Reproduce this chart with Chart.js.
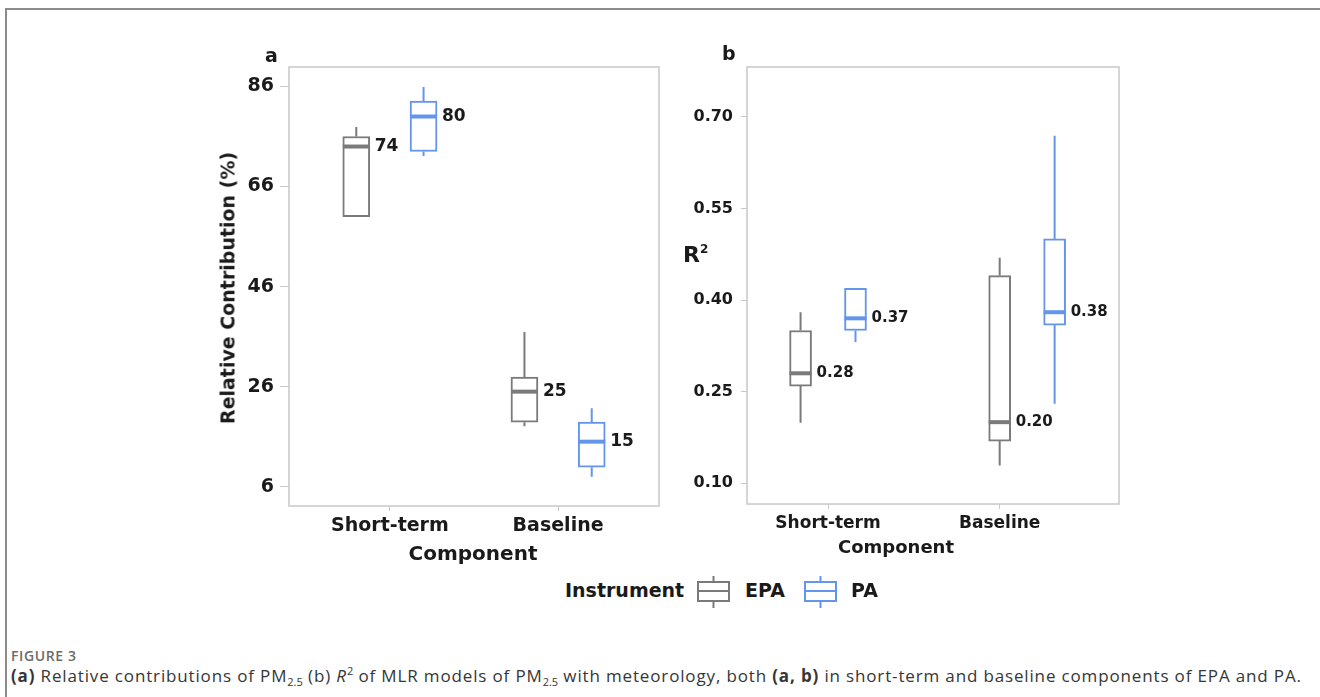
<!DOCTYPE html>
<html>
<head>
<meta charset="utf-8">
<script src="https://cdn.jsdelivr.net/npm/chart.js@4.4.0/dist/chart.umd.min.js"></script>
<style>
  body { margin: 0; background: #fff; width: 1320px; height: 697px; overflow: hidden; position: relative; font-family: 'DejaVu Sans', sans-serif; }
  .frame { position: absolute; left: 5px; top: 8px; width: 1400px; height: 800px; border-left: 2px solid #8c8c8c; border-top: 2px solid #8c8c8c; }
  #chartA { position: absolute; left: 0; top: 0; }
  #chartB { position: absolute; left: 680px; top: 0; }
  .lbl { position: absolute; font-weight: bold; color: #1a1a1a; white-space: nowrap; line-height: 1; }
  .cap-head { position: absolute; left: 11px; top: 646px; font-family: 'Open Sans', sans-serif; font-size: 14px; font-weight: 600; letter-spacing: 0.6px; color: #6b6b6b; }
  .cap { position: absolute; left: 11px; top: 664px; font-family: 'Open Sans', sans-serif; font-size: 17px; letter-spacing: 0.85px; color: #363636; white-space: nowrap; }
  .cap sub, .cap sup { font-size: 11px; line-height: 0; letter-spacing: 0; }
</style>
</head>
<body>
<div class="frame"></div>
<canvas id="chartA" width="680" height="546"></canvas>
<canvas id="chartB" width="640" height="546"></canvas>

<div class="lbl" style="left:265px;top:46px;font-size:19px;">a</div>
<div class="lbl" style="left:722px;top:44px;font-size:19px;">b</div>
<div class="lbl" style="left:228px;top:288px;font-size:19px;transform:translate(-50%,-50%) rotate(-90deg);">Relative Contribution (%)</div>
<div class="lbl" style="left:683px;top:243px;font-size:22px;">R<sup style="font-size:12px;vertical-align:9px;">2</sup></div>
<div class="lbl" style="left:473px;top:543px;font-size:20px;transform:translateX(-50%);">Component</div>
<div class="lbl" style="left:896px;top:538px;font-size:18px;transform:translateX(-50%);">Component</div>

<div class="lbl" style="left:565px;top:581px;font-size:19px;">Instrument</div>
<svg style="position:absolute;left:697px;top:575px;" width="33" height="34">
  <line x1="16.5" y1="1" x2="16.5" y2="7" stroke="#7a7a7a" stroke-width="2"/>
  <line x1="16.5" y1="26" x2="16.5" y2="33" stroke="#7a7a7a" stroke-width="2"/>
  <rect x="1" y="7" width="31" height="19" fill="#fff" stroke="#7a7a7a" stroke-width="2"/>
  <line x1="1" y1="16" x2="32" y2="16" stroke="#7a7a7a" stroke-width="2"/>
</svg>
<div class="lbl" style="left:745px;top:581px;font-size:19px;">EPA</div>
<svg style="position:absolute;left:804px;top:575px;" width="33" height="34">
  <line x1="16.5" y1="1" x2="16.5" y2="7" stroke="#6495ed" stroke-width="2"/>
  <line x1="16.5" y1="26" x2="16.5" y2="33" stroke="#6495ed" stroke-width="2"/>
  <rect x="1" y="7" width="31" height="19" fill="#fff" stroke="#6495ed" stroke-width="2"/>
  <line x1="1" y1="16" x2="32" y2="16" stroke="#6495ed" stroke-width="2"/>
</svg>
<div class="lbl" style="left:851px;top:581px;font-size:19px;">PA</div>

<div class="cap-head">FIGURE 3</div>
<div class="cap"><b>(a)</b> Relative contributions of PM<sub>2.5</sub> (b) <i>R</i><sup>2</sup> of MLR models of PM<sub>2.5</sub> with meteorology, both <b>(a, b)</b> in short-term and baseline components of EPA and PA.</div>

<script>
// categories and box statistics (min, q1, median, q3, max)
const categories = ['Short-term', 'Baseline'];
const seriesNames = ['EPA', 'PA'];

// panel a: relative contribution (%)
const contribEpaMin = [60.0, 18.1];
const contribEpaQ1 = [60.0, 18.9];
const contribEpaMed = [74, 25];
const contribEpaQ3 = [76.0, 27.9];
const contribEpaMax = [77.9, 36.9];
const contribPaMin = [72.1, 8.0];
const contribPaQ1 = [73.0, 9.9];
const contribPaMed = [80, 15];
const contribPaQ3 = [83.1, 18.9];
const contribPaMax = [85.9, 21.7];
const contribTicks = [6, 26, 46, 66, 86];

// panel b: R squared
const r2EpaMin = [0.199, 0.129];
const r2EpaQ1 = [0.259, 0.169];
const r2EpaMed = [0.28, 0.20];
const r2EpaQ3 = [0.35, 0.44];
const r2EpaMax = [0.38, 0.469];
const r2PaMin = [0.331, 0.23];
const r2PaQ1 = [0.35, 0.359];
const r2PaMed = [0.37, 0.38];
const r2PaQ3 = [0.419, 0.50];
const r2PaMax = [0.419, 0.669];
const r2Ticks = [0.10, 0.25, 0.40, 0.55, 0.70];

const colors = ['#7a7a7a', '#6495ed'];
const textColor = '#1a1a1a';

function makeBoxes(q1, q3, med, mn, mx, offsets) {
    return q1.map((v, i) => ({ x: i + 1 + offsets[i], y: [v, q3[i]], med: med[i], min: mn[i], max: mx[i] }));
}

// whiskers, medians and median labels, drawn from the dataset points
const boxExtras = {
    id: 'boxExtras',
    beforeDatasetsDraw(chart) {
        const a = chart.chartArea, ctx = chart.ctx;
        ctx.save();
        ctx.strokeStyle = '#c8c8c8';
        ctx.lineWidth = 1.5;
        ctx.strokeRect(a.left, a.top, a.right - a.left, a.bottom - a.top);
        ctx.restore();
    },
    afterDatasetsDraw(chart, args, opts) {
        const ctx = chart.ctx, ys = chart.scales.y;
        chart.data.datasets.forEach((ds, di) => {
            const meta = chart.getDatasetMeta(di);
            meta.data.forEach((bar, i) => {
                const p = ds.data[i];
                const half = bar.width / 2;
                const top = ys.getPixelForValue(p.y[1]);
                const bot = ys.getPixelForValue(p.y[0]);
                ctx.save();
                ctx.strokeStyle = ds.borderColor;
                ctx.lineWidth = 2;
                ctx.beginPath();
                ctx.moveTo(bar.x, top);
                ctx.lineTo(bar.x, ys.getPixelForValue(p.max));
                ctx.moveTo(bar.x, bot);
                ctx.lineTo(bar.x, ys.getPixelForValue(p.min));
                ctx.stroke();
                const my = ys.getPixelForValue(p.med);
                ctx.lineWidth = 4;
                ctx.beginPath();
                ctx.moveTo(bar.x - half, my);
                ctx.lineTo(bar.x + half, my);
                ctx.stroke();
                ctx.fillStyle = textColor;
                ctx.font = 'bold ' + opts.labelSize + 'px "DejaVu Sans"';
                ctx.textBaseline = 'middle';
                ctx.textAlign = 'left';
                ctx.fillText(p.med.toFixed(opts.digits), bar.x + half + 5, my);
                ctx.restore();
            });
        });
    }
};

function boxChart(id, cfg) {
    const datasets = [
        { label: seriesNames[0], data: makeBoxes(cfg.epa[0], cfg.epa[1], cfg.epa[2], cfg.epa[3], cfg.epa[4], cfg.epaOffsets) },
        { label: seriesNames[1], data: makeBoxes(cfg.pa[0], cfg.pa[1], cfg.pa[2], cfg.pa[3], cfg.pa[4], cfg.paOffsets) }
    ].map((d, i) => Object.assign(d, {
        backgroundColor: '#ffffff',
        borderColor: colors[i],
        borderWidth: 2,
        borderSkipped: false,
        barThickness: cfg.boxWidth,
        grouped: false
    }));

    return new Chart(document.getElementById(id), {
        type: 'bar',
        data: { datasets },
        options: {
            responsive: false,
            animation: false,
            layout: { padding: { top: 67, right: cfg.padRight, bottom: 0, left: 0 } },
            plugins: {
                legend: { display: false },
                tooltip: { enabled: false },
                boxExtras: { labelSize: cfg.labelSize, digits: cfg.digits }
            },
            scales: {
                x: {
                    type: 'linear',
                    min: cfg.xMin,
                    max: cfg.xMax,
                    offset: false,
                    afterBuildTicks: s => { s.ticks = categories.map((c, i) => ({ value: i + 1 })); },
                    afterFit: s => { s.height = cfg.xHeight; },
                    ticks: {
                        callback: v => categories[v - 1],
                        color: textColor,
                        font: { family: 'DejaVu Sans', weight: 'bold', size: cfg.xFont },
                        padding: 4,
                        maxRotation: 0
                    },
                    grid: { drawOnChartArea: false, color: '#c8c8c8', tickLength: 5, offset: false },
                    border: { display: false }
                },
                y: {
                    min: cfg.yMin,
                    max: cfg.yMax,
                    afterBuildTicks: s => { s.ticks = cfg.yTicks.map(v => ({ value: v })); },
                    afterFit: s => { s.width = cfg.yWidth; },
                    ticks: {
                        callback: v => v.toFixed(cfg.digits),
                        color: textColor,
                        font: { family: 'DejaVu Sans', weight: 'bold', size: cfg.yFont },
                        padding: cfg.yPad
                    },
                    grid: { drawOnChartArea: false, color: '#c8c8c8', tickLength: cfg.yTickLen },
                    border: { display: false }
                }
            }
        },
        plugins: [boxExtras]
    });
}

boxChart('chartA', {
    epa: [contribEpaQ1, contribEpaQ3, contribEpaMed, contribEpaMin, contribEpaMax],
    pa: [contribPaQ1, contribPaQ3, contribPaMed, contribPaMin, contribPaMax],
    epaOffsets: [-0.2, -0.2], paOffsets: [0.2, 0.2],
    boxWidth: 27, xMin: 0.4, xMax: 2.6, yMin: 2.14, yMax: 89.9, yTicks: contribTicks,
    padRight: 21, yWidth: 289, xHeight: 40, xFont: 19, yFont: 19, yPad: 6, yTickLen: 9,
    labelSize: 17, digits: 0
});

boxChart('chartB', {
    epa: [r2EpaQ1, r2EpaQ3, r2EpaMed, r2EpaMin, r2EpaMax],
    pa: [r2PaQ1, r2PaQ3, r2PaMed, r2PaMin, r2PaMax],
    epaOffsets: [-0.16, 0.0], paOffsets: [0.16, 0.32],
    boxWidth: 22, xMin: 0.528, xMax: 2.695, yMin: 0.066, yMax: 0.7815, yTicks: r2Ticks,
    padRight: 201, yWidth: 67, xHeight: 42, xFont: 17, yFont: 16, yPad: 8, yTickLen: 6,
    labelSize: 15, digits: 2
});
</script>
</body>
</html>
